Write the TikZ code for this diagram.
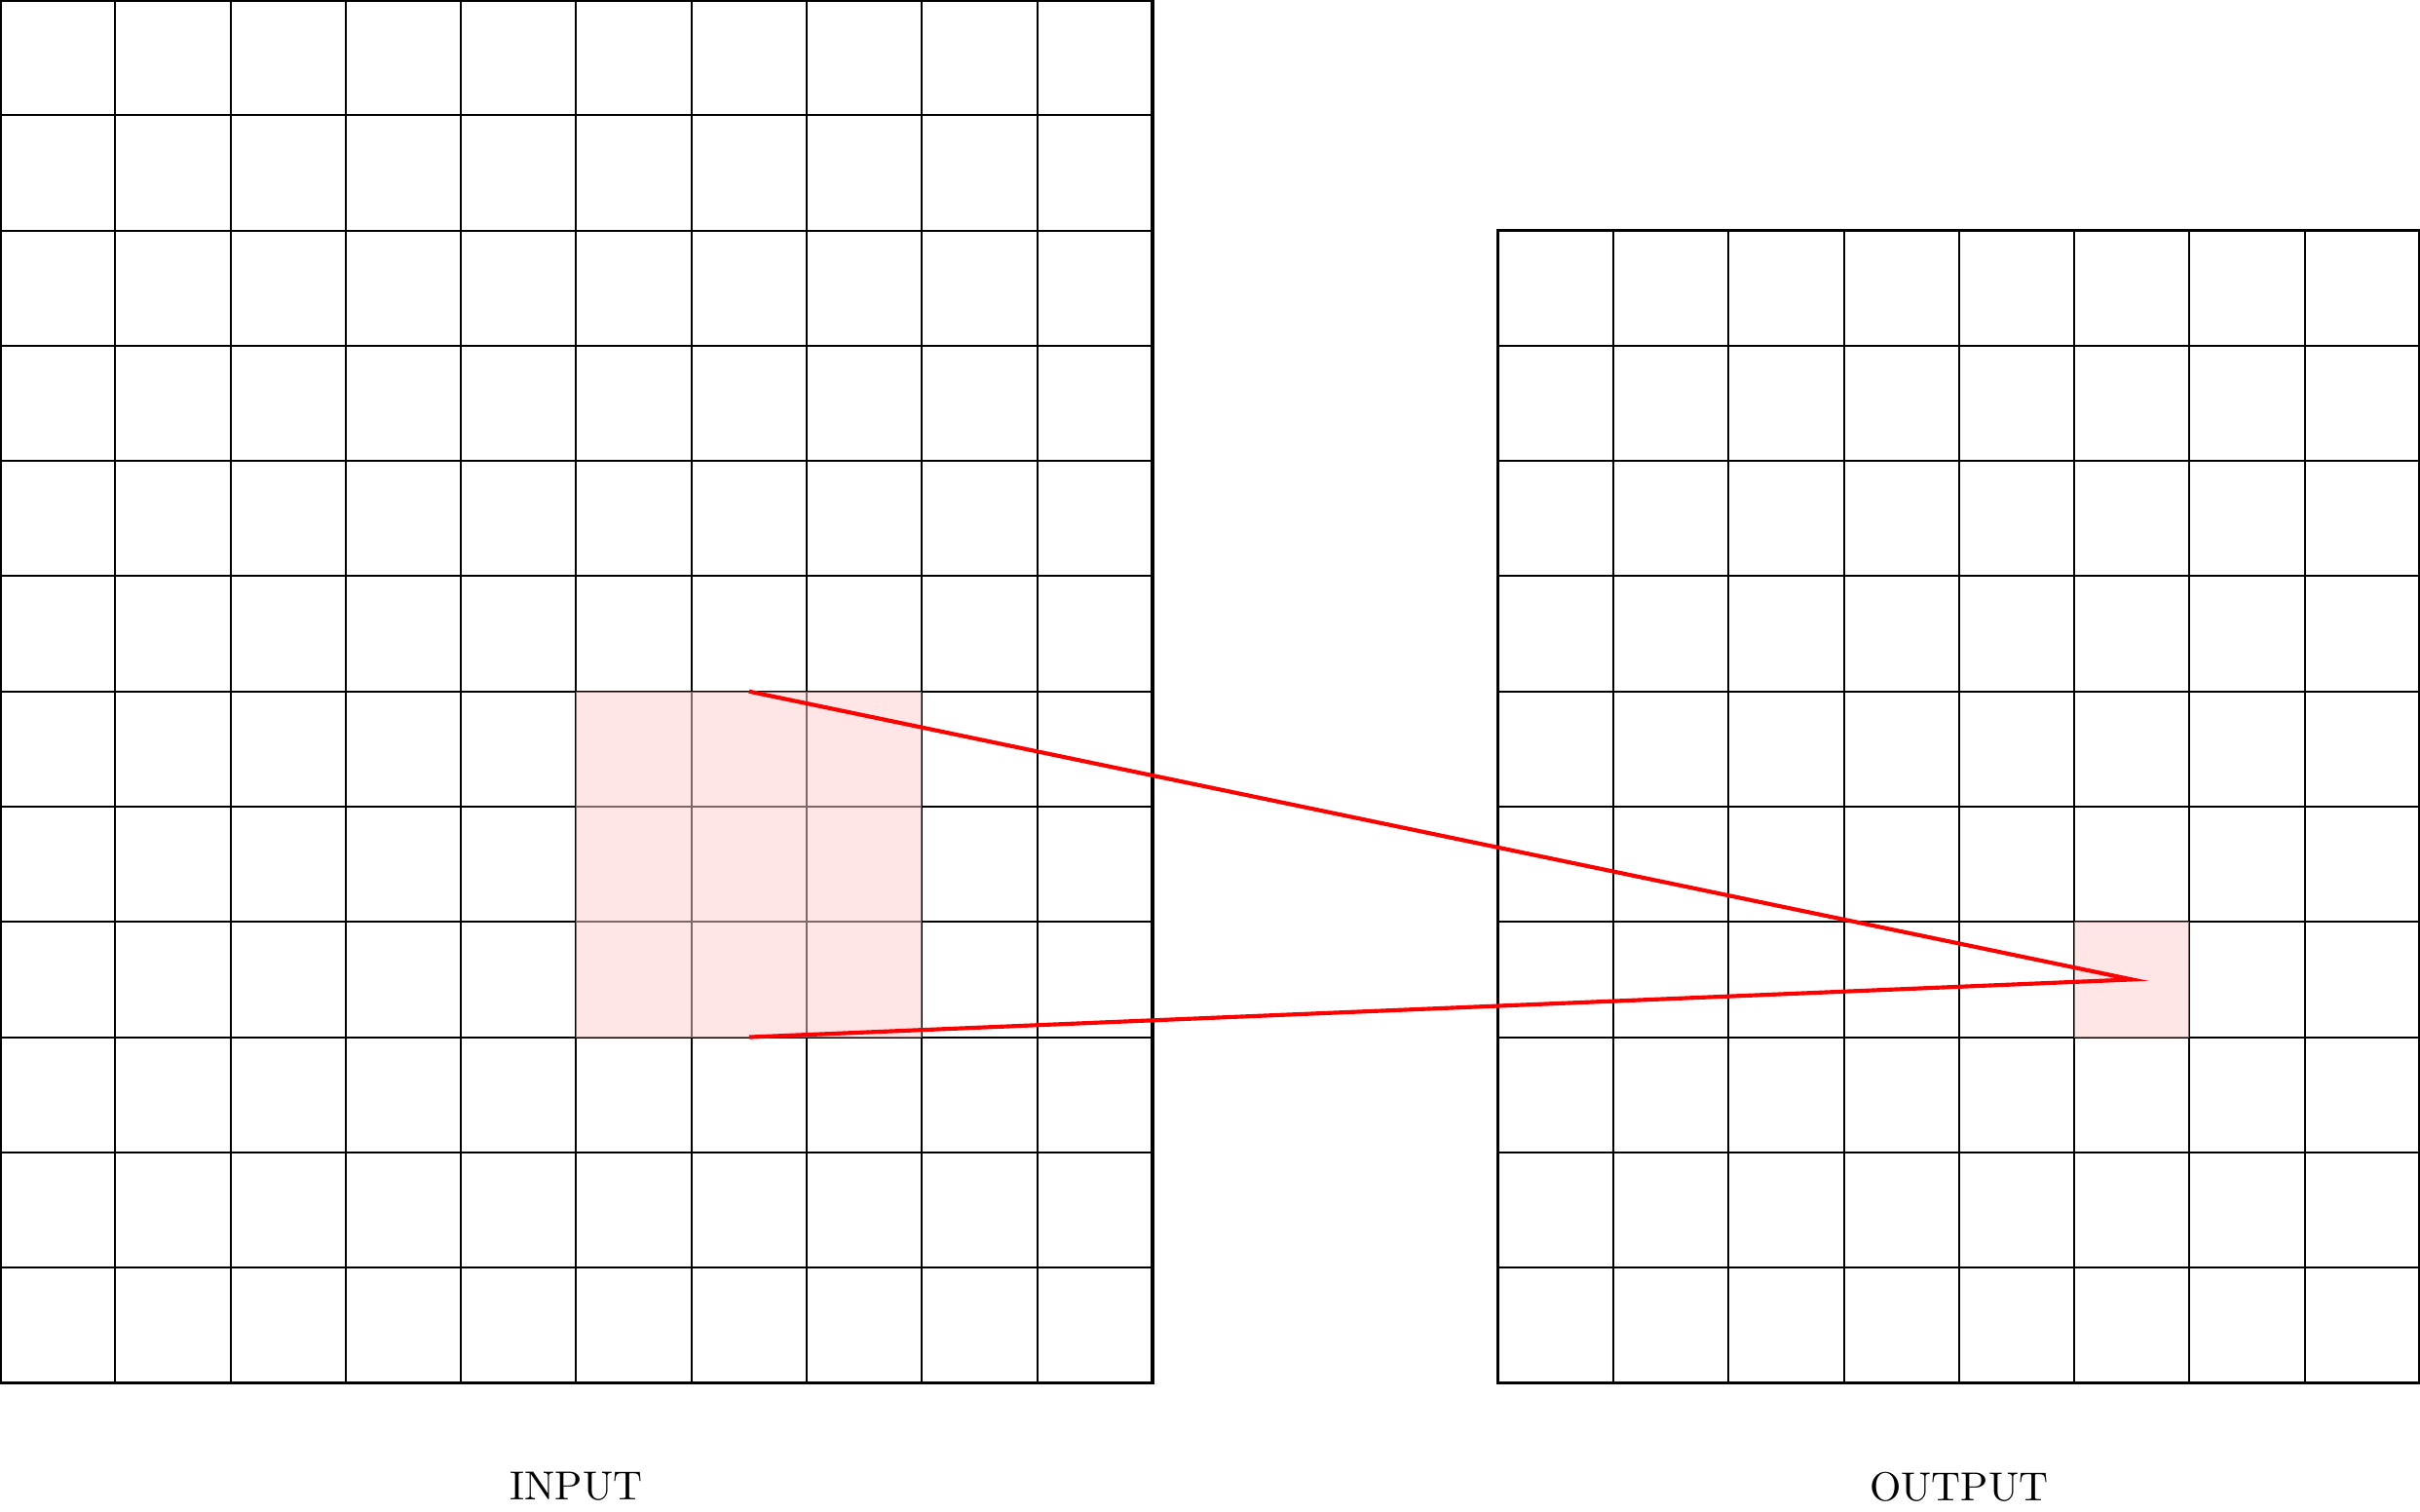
\documentclass[tikz,border=0pt]{standalone}
\usepackage{tikz}
\usepackage{xcolor}
\definecolor{fieldred}{RGB}{255,0,0}
\definecolor{fieldpink}{RGB}{255,204,204}

\begin{document}
\begin{tikzpicture}
    \useasboundingbox (0,-1.12) rectangle (21,12);

    % Input grid
    \draw[step=1, line width=0.5pt] (0,0) grid (10,12);
    \draw[line width=0.8pt] (0,0) rectangle (10,12);

    % Output grid
    \draw[step=1, line width=0.5pt] (13,0) grid (21,10);
    \draw[line width=0.8pt] (13,0) rectangle (21,10);

    % Receptive field and output pixel
    \fill[fieldpink, opacity=0.5] (5,3) rectangle (8,6);
    \fill[fieldpink, opacity=0.5] (18,3) rectangle (19,4);

    % Connection
    \coordinate (fieldtop) at (6.5,6);
    \coordinate (fieldbottom) at (6.5,3);
    \coordinate (pixel) at (18.5,3.5);
    \draw[fieldred, line width=1pt] (fieldtop) -- (pixel) -- (fieldbottom);

    % Labels
    \node (input) at (5,-0.9) {INPUT};
    \node (output) at (17,-0.9) {OUTPUT};
\end{tikzpicture}
\end{document}
